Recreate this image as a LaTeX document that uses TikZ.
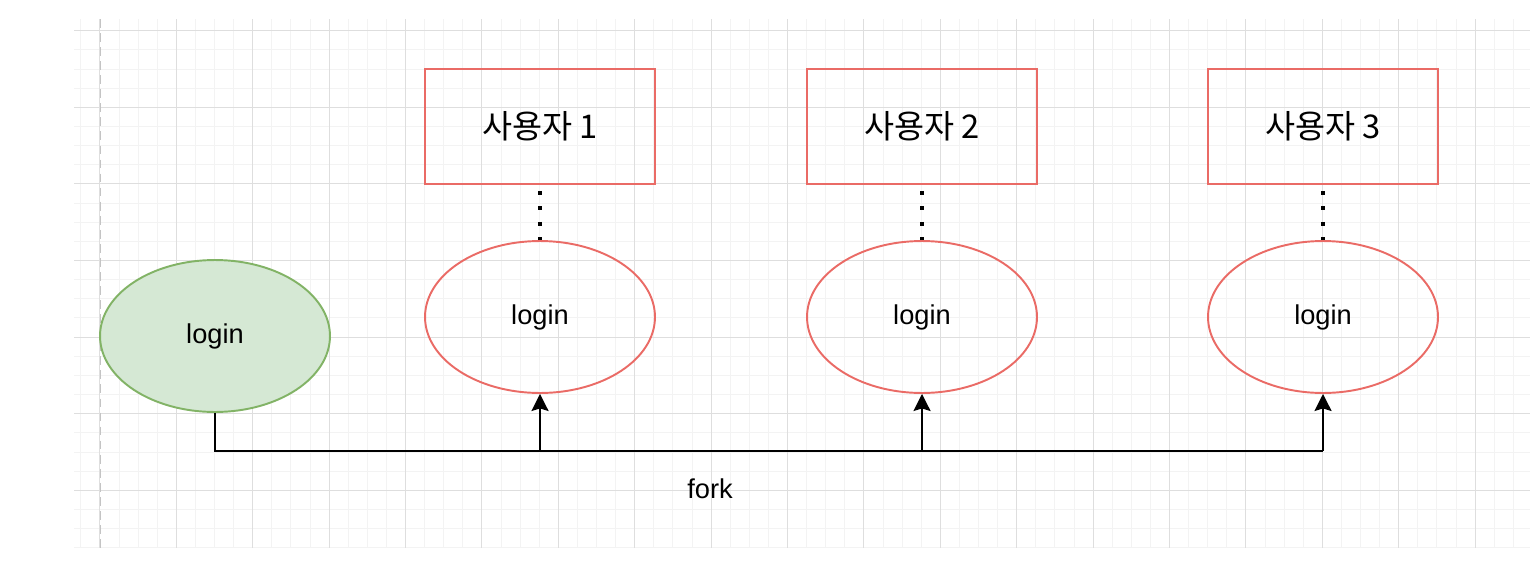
\documentclass[tikz,border=0pt]{standalone}
\usepackage{fontspec}
\setmainfont{Liberation Sans}
\newfontfamily\krfont[Scale=1.2]{Noto Sans CJK KR}
\usetikzlibrary{shapes.geometric,arrows.meta}

\definecolor{gridminor}{HTML}{F3F3F3}
\definecolor{gridmajor}{HTML}{DEDEDE}
\definecolor{pageline}{HTML}{C4C4C4}
\definecolor{userred}{HTML}{EA6B66}
\definecolor{maingreenfill}{HTML}{D5E8D4}
\definecolor{maingreenline}{HTML}{82B366}

\begin{document}
\begin{tikzpicture}[x=0.02cm, y=-0.02cm,
    every node/.style={font=\fontsize{15.5pt}{18pt}\selectfont}]

    % Styles
    \tikzstyle{minor_line} = [draw=gridminor, line width=0.57pt]
    \tikzstyle{major_line} = [draw=gridmajor, line width=0.57pt]
    \tikzstyle{user_box} = [rectangle, draw=userred, line width=1.1pt, inner sep=0pt,
        minimum width=4.6cm, minimum height=2.3cm, align=center]
    \tikzstyle{user_login} = [ellipse, draw=userred, line width=1.1pt, inner sep=0pt,
        minimum width=4.6cm, minimum height=3.04cm]
    \tikzstyle{main_login} = [ellipse, draw=maingreenline, fill=maingreenfill, line width=1.1pt,
        inner sep=0pt, minimum width=4.6cm, minimum height=3.04cm]
    \tikzstyle{dot_link} = [draw=black, line width=1.8pt, dash pattern=on 2.2pt off 6.6pt,
        dash phase=5.4pt]
    \tikzstyle{fork_line} = [draw=black, line width=1.25pt]
    \tikzstyle{fork_arrow} = [fork_line, -{Stealth[length=0.34cm, width=0.34cm, inset=0.05cm]}]

    \useasboundingbox (0,0) rectangle (1540,568);

    % Grid background
    \begin{scope}
        \clip (74,19) rectangle (1530,548);
        \foreach \k in {-1,...,74} \draw[minor_line] ({99.9+19.1*\k},19) -- ++(0,529);
        \foreach \k in {0,...,27} \draw[minor_line] (74,{30.7+19.15*\k}) -- ++(1456,0);
        \foreach \k in {0,...,18} \draw[major_line] ({99.9+76.4*\k},19) -- ++(0,529);
        \foreach \k in {0,...,6} \draw[major_line] (74,{30.7+76.6*\k}) -- ++(1456,0);
    \end{scope}
    \draw[pageline, line width=0.8pt, dash pattern=on 5pt off 3pt] (100.7,19) -- (100.7,548);

    % Column X positions
    \def\colone{540}
    \def\coltwo{922}
    \def\colthree{1323}

    % Parent process
    \node[main_login] (mainlogin) at (215,336) {login};

    % User boxes
    \node[user_box] (user1box) at (\colone,126.5) {\krfont 사용자 1};
    \node[user_box] (user2box) at (\coltwo,126.5) {\krfont 사용자 2};
    \node[user_box] (user3box) at (\colthree,126.5) {\krfont 사용자 3};

    % Child processes
    \node[user_login] (user1login) at (\colone,317) {login};
    \node[user_login] (user2login) at (\coltwo,317) {login};
    \node[user_login] (user3login) at (\colthree,317) {login};

    % Dotted links
    \draw[dot_link] (user1box.south) -- (user1login.north);
    \draw[dot_link] (user2box.south) -- (user2login.north);
    \draw[dot_link] (user3box.south) -- (user3login.north);

    % Fork connectors
    \coordinate (forkleft) at (215,451);
    \coordinate (forkright) at (\colthree,451);
    \draw[fork_line] (mainlogin.south) -- (forkleft) -- (forkright);
    \draw[fork_arrow] (forkleft -| user1login.south) -- (user1login.south);
    \draw[fork_arrow] (forkleft -| user2login.south) -- (user2login.south);
    \draw[fork_arrow] (forkright) -- (user3login.south);

    \node (forklabel) at (710,489) {fork};

\end{tikzpicture}
\end{document}
